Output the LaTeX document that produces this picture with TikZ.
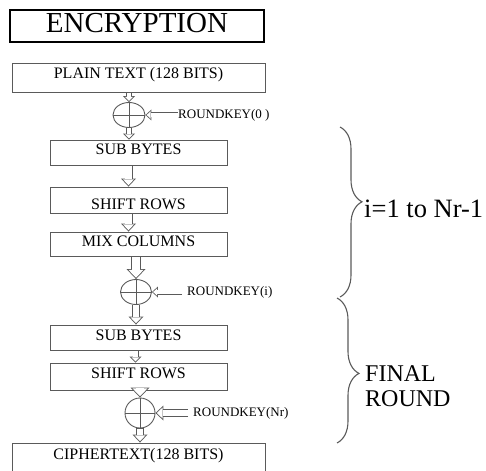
\documentclass[tikz,border=0pt]{standalone}
\usepackage{fontspec}
\setmainfont{Liberation Serif}
\usetikzlibrary{positioning,arrows.meta,calc,shapes.geometric,decorations.pathreplacing}
\definecolor{LineGray}{HTML}{5A5A5A}
\newcommand{\BoxFont}{\fontsize{16}{18}\selectfont}
\tikzset{
  titlebox/.style={draw=black, line width=1.4pt, minimum width=254pt, minimum height=32pt,
                   inner sep=0pt, font=\fontsize{29}{32}\selectfont, text height=20pt, text depth=7pt},
  stage/.style={draw=LineGray, line width=0.9pt, minimum width=177pt, minimum height=25pt,
                inner sep=0pt, font=\BoxFont, text height=11pt, text depth=7pt},
  widestage/.style={stage, minimum width=253pt},
  xorop/.style={ellipse, draw=LineGray, line width=0.9pt, minimum width=31pt, minimum height=25pt,
                inner sep=0pt, path picture={
                  \draw[LineGray, line width=0.8pt]
                    (path picture bounding box.north) -- (path picture bounding box.south)
                    (path picture bounding box.west) -- (path picture bounding box.east);}},
  keylabel/.style={anchor=west, inner sep=0pt, font=\fontsize{13}{15}\selectfont},
  sidelabel/.style={inner sep=0pt, align=left, font=\fontsize{24}{25}\selectfont},
  % hollow block arrows: grey outline, white inside
  flowsmall/.style={draw=LineGray, line width=6pt,
    -{Triangle[length=6pt, width=12pt, line width=0pt 0]},
    postaction={draw=white, line width=4.2pt, shorten >=1.2pt, shorten <=0.5pt,
      -{Triangle[length=3.9pt, width=7.8pt, line width=0pt 0]}}},
  flowmid/.style={draw=LineGray, line width=8pt,
    -{Triangle[length=8pt, width=15pt, line width=0pt 0]},
    postaction={draw=white, line width=6.2pt, shorten >=1.3pt, shorten <=0.5pt,
      -{Triangle[length=5.8pt, width=10.9pt, line width=0pt 0]}}},
  flowbig/.style={draw=LineGray, line width=10pt,
    -{Triangle[length=10pt, width=19pt, line width=0pt 0]},
    postaction={draw=white, line width=8.2pt, shorten >=1.3pt, shorten <=0.5pt,
      -{Triangle[length=7.8pt, width=14.9pt, line width=0pt 0]}}},
  flowkey/.style={draw=LineGray, line width=5pt,
    -{Triangle[length=6pt, width=11pt, line width=0pt 0]},
    postaction={draw=white, line width=3.2pt, shorten >=1.2pt, shorten <=0.5pt,
      -{Triangle[length=3.9pt, width=7.2pt, line width=0pt 0]}}},
  roundbrace/.style={decorate, decoration={brace, amplitude=22pt, aspect=#1},
                     draw=LineGray, line width=1.1pt},
}

\begin{document}
\begin{tikzpicture}[x=1pt, y=-1pt]
  \useasboundingbox (0,0) rectangle (486,470);

  % boxes down the left side
  \node[titlebox] (title) at (137,26) {ENCRYPTION};
  \node[widestage, minimum height=29pt, text depth=9pt] (plain) at (138.5,77.5) {PLAIN TEXT (128 BITS)};
  \node[xorop, minimum width=32pt] (xor1) at (129,115) {};
  \node[stage] (sub1) at (138.5,152.5) {SUB BYTES};
  \node[stage, minimum height=26pt, text height=19pt, text depth=0pt] (shift1) at (138.5,200) {SHIFT ROWS};
  \node[stage, minimum height=24pt, text depth=6pt] (mix) at (138.5,244) {MIX COLUMNS};
  \node[xorop] (xor2) at (136,292) {};
  \node[stage, text depth=6pt] (sub2) at (138.5,337.5) {SUB BYTES};
  \node[stage, minimum height=27pt, text depth=8pt] (shift2) at (138.5,376.5) {SHIFT ROWS};
  \node[xorop, minimum width=30pt, minimum height=30pt] (xor3) at (140,413) {};
  \node[widestage, minimum height=32pt, text depth=11pt] (cipher) at (138.5,459) {CIPHERTEXT(128 BITS)};

  % round keys
  \node[keylabel] (key0) at (178,115) {ROUNDKEY(0 )};
  \node[keylabel] (keyi) at (187,292) {ROUNDKEY(i)};
  \node[keylabel] (keynr) at (193,413) {ROUNDKEY(Nr)};

  % flow
  \draw[flowsmall] (xor1.north |- plain.south) -- (xor1.north);
  \draw[flowsmall] (xor1.south) -- (xor1.south |- sub1.north);
  \draw[flowmid] ([xshift=-10pt]sub1.south) -- ([xshift=-10pt]shift1.north);
  \draw[flowmid] ([xshift=-10pt]shift1.south) -- ([xshift=-10pt]mix.north);
  \draw[flowbig] (xor2.north |- mix.south) -- (xor2.north);
  \draw[flowmid] (xor2.south) -- (xor2.south |- sub2.north);
  \draw[flowsmall] ([xshift=-3pt]sub2.south) -- ([xshift=-3pt]shift2.north);
  \draw[flowbig] (xor3.north |- shift2.south) -- (xor3.north);
  \draw[flowmid] (xor3.south) -- (xor3.south |- cipher.north);
  \draw[flowkey] (key0.west) -- (xor1.east);
  \draw[flowkey] ([xshift=-5pt]keyi.west) -- (xor2.east);
  \draw[flowmid] ([xshift=-5pt]keynr.west) -- (xor3.east);

  % braces on the right
  \coordinate (loopTop) at (340,127);
  \coordinate (loopEnd) at (340,297);
  \coordinate (lastTop) at (337,298);
  \coordinate (lastEnd) at (337,443);
  \draw[roundbrace=0.44] (loopTop) -- (loopEnd);
  \draw[roundbrace=0.52] (lastTop) -- (lastEnd);
  \node[sidelabel, font=\fontsize{26.5}{28}\selectfont, anchor=base west] (loopnote) at (364,217) {i=1 to Nr-1};
  \node[sidelabel, anchor=west] (lastnote) at (365,386) {FINAL\\ROUND};
\end{tikzpicture}
\end{document}
